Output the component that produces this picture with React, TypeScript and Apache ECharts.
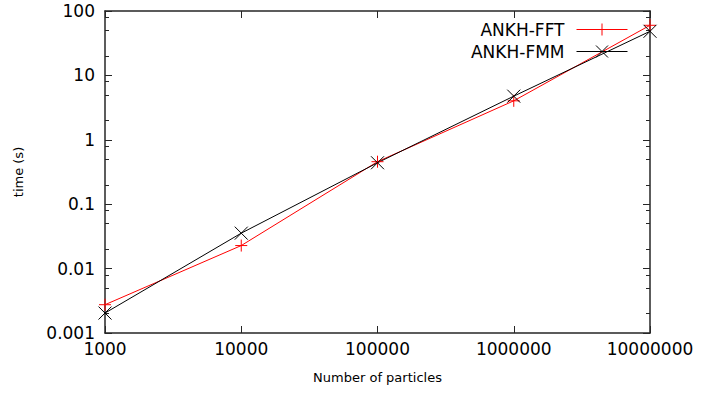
import React, { useEffect, useRef } from "react";
import * as echarts from "echarts";

const particles = [1000, 10000, 100000, 1000000, 10000000];
const fftTimes = [0.00275, 0.0228, 0.457, 4.03, 60];
const fmmTimes = [0.00204, 0.0355, 0.44, 4.76, 48.4];
const xTickLabels = ["1000", "10000", "100000", "1000000", "10000000"];
const yTickLabels = ["0.001", "0.01", "0.1", "1", "10", "100"];
const yMinorTicks = [
  0.002, 0.005, 0.008, 0.02, 0.05, 0.08, 0.2, 0.5, 0.8, 2, 5, 8, 20, 50, 80,
];

const FONT = "DejaVu Sans";
const AXIS_COLOR = "#262626";

export default function App() {
  const ref = useRef<HTMLDivElement>(null);
  useEffect(() => {
    if (!ref.current) return;
    const chart = echarts.init(ref.current, undefined, { renderer: "svg" });
    const xLabel = (v: number) => xTickLabels[Math.round(Math.log10(v)) - 3] ?? "";
    const yLabel = (v: number) => yTickLabels[Math.round(Math.log10(v)) + 3] ?? "";
    const baseX = {
      type: "log" as const,
      logBase: 10,
      min: 1000,
      max: 10000000,
      splitLine: { show: false },
    };
    const baseY = {
      type: "log" as const,
      logBase: 10,
      min: 0.001,
      max: 100,
      splitLine: { show: false },
    };
    const plus = "path://M5,0L5,10M0,5L10,5";
    const cross = "path://M0,0L10,10M10,0L0,10";
    const legendBase = {
      right: 94,
      padding: 0,
      align: "right" as const,
      itemWidth: 51,
      itemHeight: 15,
      lineStyle: { width: 1 },
      itemStyle: { borderWidth: 1 },
      textStyle: { fontSize: 17, fontFamily: FONT, color: "#000", padding: [0, 7, 0, 0] },
    };
    chart.setOption({
      animation: false,
      textStyle: { fontFamily: FONT },
      grid: { left: 105, right: 72, top: 11, bottom: 60, containLabel: false },
      legend: [
        { ...legendBase, data: ["ANKH-FFT"], top: 21 },
        { ...legendBase, data: ["ANKH-FMM"], top: 43 },
      ],
      xAxis: [
        {
          ...baseX,
          position: "bottom",
          name: "Number of particles",
          nameLocation: "middle",
          nameGap: 38,
          nameTextStyle: { fontSize: 13, fontFamily: FONT, color: "#000" },
          axisLine: { show: true, lineStyle: { color: AXIS_COLOR, width: 1.5 } },
          axisTick: { show: true, inside: true, length: 7, lineStyle: { color: AXIS_COLOR } },
          axisLabel: { fontSize: 17, fontFamily: FONT, color: "#000", margin: 7, formatter: xLabel },
        },
        {
          ...baseX,
          position: "top",
          axisLine: { show: true, lineStyle: { color: AXIS_COLOR, width: 1.5 } },
          axisTick: { show: true, inside: true, length: 7, lineStyle: { color: AXIS_COLOR } },
          axisLabel: { show: false },
        },
      ],
      yAxis: [
        {
          ...baseY,
          position: "left",
          name: "time (s)",
          nameLocation: "middle",
          nameGap: 80,
          nameTextStyle: { fontSize: 13, fontFamily: FONT, color: "#000" },
          axisLine: { show: true, lineStyle: { color: AXIS_COLOR, width: 1.5 } },
          axisTick: { show: true, inside: true, length: 7, lineStyle: { color: AXIS_COLOR } },
          axisLabel: { fontSize: 17, fontFamily: FONT, color: "#000", margin: 10, formatter: yLabel },
        },
        {
          ...baseY,
          position: "right",
          axisLine: { show: true, lineStyle: { color: AXIS_COLOR, width: 1.5 } },
          axisTick: { show: true, inside: true, length: 7, lineStyle: { color: AXIS_COLOR } },
          axisLabel: { show: false },
        },
        {
          ...baseY,
          position: "left",
          axisLine: { show: false },
          axisTick: {
            show: true,
            inside: true,
            length: 4,
            customValues: yMinorTicks,
            lineStyle: { color: AXIS_COLOR },
          },
          axisLabel: { show: false },
        },
        {
          ...baseY,
          position: "right",
          axisLine: { show: false },
          axisTick: {
            show: true,
            inside: true,
            length: 4,
            customValues: yMinorTicks,
            lineStyle: { color: AXIS_COLOR },
          },
          axisLabel: { show: false },
        },
      ],
      series: [
        {
          name: "ANKH-FFT",
          type: "line",
          xAxisIndex: 0,
          yAxisIndex: 0,
          data: particles.map((p, i) => [p, fftTimes[i]]),
          symbol: plus,
          symbolSize: 12,
          showAllSymbol: true,
          lineStyle: { color: "#ff0000", width: 1 },
          itemStyle: { color: "#ff0000", borderColor: "#ff0000", borderWidth: 1 },
          clip: false,
        },
        {
          name: "ANKH-FMM",
          type: "line",
          xAxisIndex: 0,
          yAxisIndex: 0,
          data: particles.map((p, i) => [p, fmmTimes[i]]),
          symbol: cross,
          symbolSize: 13,
          showAllSymbol: true,
          lineStyle: { color: "#000000", width: 1 },
          itemStyle: { color: "#000000", borderColor: "#000000", borderWidth: 1 },
          clip: false,
        },
      ],
    });
    return () => chart.dispose();
  }, []);
  return (
    <div
      ref={ref}
      style={{ position: "fixed", left: 0, top: 0, width: 722, height: 393, background: "#fff" }}
    />
  );
}
